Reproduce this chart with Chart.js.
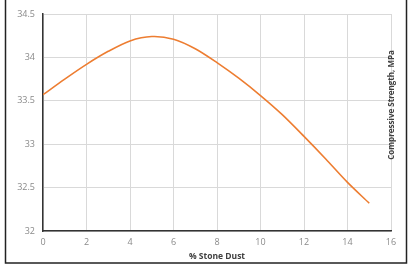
<!DOCTYPE html>
<html>
<head>
<meta charset="utf-8">
<script src="https://cdn.jsdelivr.net/npm/chart.js@4.4.1/dist/chart.umd.min.js"></script>
<style>
  html, body { margin: 0; padding: 0; background: #fff; }
  #wrap { position: relative; width: 412px; height: 268px; }
</style>
</head>
<body>
<div id="wrap"><canvas id="chart" width="412" height="268"></canvas></div>
<script>
// % stone dust and compressive strength (MPa)
const stoneDust = [0, 1, 2, 3, 4, 5, 6, 7, 8, 9, 10, 11, 12, 13, 14, 15];
const strength = [33.57, 33.75, 33.92, 34.07, 34.19, 34.24, 34.21, 34.1, 33.94, 33.76, 33.56, 33.34, 33.09, 32.83, 32.56, 32.32];
const xTicks = [0, 2, 4, 6, 8, 10, 12, 14, 16];
const yTicks = [32, 32.5, 33, 33.5, 34, 34.5];
const xTitle = "% Stone Dust";
const yTitle = "Compressive Strength, MPa";

const canvas = document.getElementById("chart");

const points = stoneDust.map((x, i) => ({ x: x, y: strength[i] }));

// outer frame + rotated y title sitting on the right edge
const extras = {
  id: "extras",
  afterDraw(chart) {
    const ctx = chart.ctx;
    ctx.save();
    ctx.strokeStyle = "#222";
    ctx.lineWidth = 1.5;
    ctx.strokeRect(5.5, -2, 401, 265);

    ctx.translate(392, 105);
    ctx.rotate(-Math.PI / 2);
    ctx.font = "bold 8px 'Open Sans'";
    ctx.fillStyle = "#404040";
    ctx.textAlign = "center";
    ctx.textBaseline = "middle";
    ctx.fillText(yTitle, 0, 0);
    ctx.restore();
  },
};

new Chart(canvas.getContext("2d"), {
  type: "line",
  data: {
    datasets: [
      {
        data: points,
        borderColor: "#ED7D31",
        borderWidth: 1.6,
        pointRadius: 0,
        fill: false,
        tension: 0.3,
      },
    ],
  },
  options: {
    responsive: false,
    animation: false,
    layout: { padding: { left: 0, right: 21, top: 14, bottom: 0 } },
    plugins: { legend: { display: false }, tooltip: { enabled: false } },
    scales: {
      x: {
        type: "linear",
        min: 0,
        max: 16,
        afterBuildTicks: (scale) => {
          scale.ticks = xTicks.map((v) => ({ value: v }));
        },
        afterFit: (scale) => {
          scale.height = 37;
        },
        grid: { color: "#d9d9d9", lineWidth: 1, drawTicks: false },
        border: { color: "#333", width: 1.5 },
        ticks: {
          color: "#8a8a8a",
          font: { family: "Open Sans", size: 9 },
          padding: 6,
          maxRotation: 0,
          callback: (v) => String(v),
        },
        title: {
          display: true,
          text: xTitle,
          color: "#404040",
          font: { family: "Open Sans", size: 8.5, weight: "bold" },
          padding: { top: 1, bottom: 6 },
        },
      },
      y: {
        min: 32,
        max: 34.5,
        afterBuildTicks: (scale) => {
          scale.ticks = yTicks.map((v) => ({ value: v }));
        },
        afterFit: (scale) => {
          scale.width = 43;
        },
        grid: { color: "#d9d9d9", lineWidth: 1, drawTicks: false },
        border: { color: "#333", width: 1.5 },
        ticks: {
          color: "#8a8a8a",
          font: { family: "Open Sans", size: 9 },
          padding: 8,
          callback: (v) => String(v),
        },
      },
    },
  },
  plugins: [extras],
});
</script>
</body>
</html>
